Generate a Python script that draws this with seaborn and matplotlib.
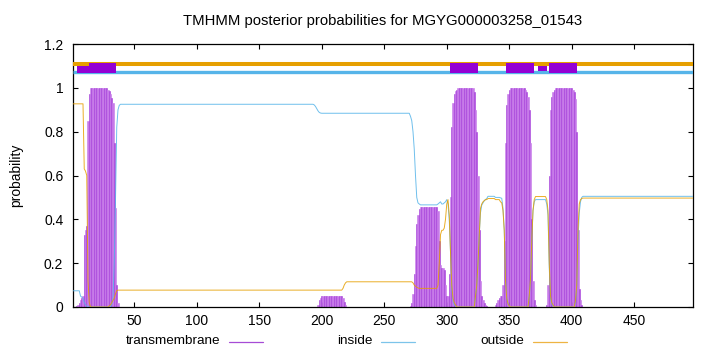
import matplotlib
matplotlib.use("Agg")
import matplotlib.pyplot as plt
import seaborn as sns
from matplotlib.lines import Line2D

# ---------------- data ----------------
title = "TMHMM posterior probabilities for MGYG000003258_01543"
seq_len = 497
residues = list(range(1, seq_len + 1))

transmembrane = (
    [0.0] * 3
    + [0.005, 0.01, 0.02, 0.03, 0.04, 0.05]
    + [0.33, 0.35, 0.37, 0.85, 0.97]
    + [1.0] * 14
    + [0.99, 0.985, 0.97, 0.955, 0.93, 0.75, 0.45, 0.1, 0.02]
    + [0.0] * 159
    + [0.01, 0.03, 0.04]
    + [0.048] * 17
    + [0.04, 0.025, 0.01]
    + [0.0] * 51
    + [0.005, 0.02, 0.06, 0.15, 0.28, 0.38, 0.42, 0.445, 0.455]
    + [0.458] * 13
    + [0.44, 0.3, 0.19, 0.18, 0.18, 0.17, 0.1, 0.05, 0.05, 0.15, 0.5, 0.82, 0.93, 0.97, 0.985, 0.99]
    + [1.0] * 13
    + [0.98, 0.9, 0.8, 0.6, 0.35, 0.12, 0.05, 0.03, 0.02, 0.01, 0.005]
    + [0.0] * 6
    + [0.01, 0.02, 0.03, 0.04, 0.05, 0.05, 0.1, 0.3, 0.75, 0.92, 0.97, 0.99]
    + [1.0] * 12
    + [0.99, 0.98, 0.96, 0.9, 0.75, 0.4, 0.12, 0.03, 0.01]
    + [0.0] * 8
    + [0.01, 0.1, 0.6, 0.9, 0.96, 0.98, 0.99]
    + [1.0] * 14
    + [0.99, 0.98, 0.95, 0.8, 0.35, 0.08, 0.03, 0.01]
    + [0.0] * 89
)

inside = (
    [0.074] * 6
    + [0.05, 0.045, 0.04, 0.02, 0.01, 0.005]
    + [0.0] * 19
    + [0.01, 0.04, 0.2, 0.49, 0.82, 0.9, 0.92]
    + [0.925] * 155
    + [0.922, 0.915, 0.905, 0.895, 0.888, 0.885]
    + [0.884] * 71
    + [0.87, 0.85, 0.8, 0.72, 0.6, 0.5, 0.475, 0.47]
    + [0.466] * 14
    + [0.47, 0.475, 0.48, 0.47, 0.47, 0.475, 0.48, 0.49, 0.47, 0.4, 0.25, 0.08, 0.03, 0.01, 0.005]
    + [0.0] * 15
    + [0.05, 0.1, 0.2, 0.33, 0.43, 0.465, 0.475, 0.485, 0.49, 0.495]
    + [0.505] * 6
    + [0.5] * 4
    + [0.498, 0.496, 0.45, 0.35, 0.13, 0.04, 0.015, 0.005]
    + [0.0] * 15
    + [0.05, 0.12, 0.3, 0.44, 0.48]
    + [0.49] * 9
    + [0.47, 0.42, 0.18, 0.04, 0.015, 0.005]
    + [0.0] * 17
    + [0.02, 0.1, 0.3, 0.43, 0.48, 0.5]
    + [0.505] * 89
)

outside = (
    [0.927] * 9
    + [0.63, 0.62, 0.6, 0.12, 0.02]
    + [0.0] * 15
    + [0.005, 0.01, 0.02, 0.03, 0.04, 0.06, 0.075]
    + [0.077] * 180
    + [0.085, 0.1, 0.11]
    + [0.115] * 53
    + [0.11, 0.1, 0.095, 0.09, 0.087]
    + [0.085] * 15
    + [0.1, 0.2, 0.33, 0.35, 0.35, 0.36, 0.4, 0.47, 0.49, 0.42, 0.25, 0.1, 0.04, 0.02, 0.01]
    + [0.0] * 15
    + [0.05, 0.1, 0.2, 0.32, 0.45, 0.47, 0.48, 0.485, 0.49, 0.49]
    + [0.495] * 6
    + [0.49] * 4
    + [0.48, 0.475, 0.44, 0.35, 0.12, 0.04, 0.015, 0.005]
    + [0.0] * 15
    + [0.05, 0.13, 0.3, 0.44, 0.49]
    + [0.504] * 9
    + [0.49, 0.44, 0.2, 0.05, 0.02, 0.01]
    + [0.0] * 17
    + [0.03, 0.1, 0.35, 0.47, 0.49, 0.495]
    + [0.497] * 89
)

tm_regions = [(14.0, 35.4), (302.8, 325.2), (347.0, 369.4), (382.0, 404.4)]
minor_regions = [(4.4, 14.0), (373.2, 380.4)]

x_ticks = [50, 100, 150, 200, 250, 300, 350, 400, 450]
y_ticks = [0, 0.2, 0.4, 0.6, 0.8, 1.0, 1.2]
y_tick_labels = ["0", "0.2", "0.4", "0.6", "0.8", "1", "1.2"]
legend_labels = ["transmembrane", "inside", "outside"]

assert len(transmembrane) == seq_len and len(inside) == seq_len and len(outside) == seq_len

# ---------------- style ----------------
sns.set_theme(style="white")
plt.rcParams["font.family"] = ["Liberation Sans", "DejaVu Sans"]
plt.rcParams["axes.linewidth"] = 0.9

C_TM_BOX = "#9400d3"
C_TM_DARK = "#a742db"
C_TM_LIGHT = "#c77ae9"
C_IN = "#56b4e9"
C_OUT = "#e69f00"

fig = plt.figure(figsize=(7.2, 3.52), dpi=100)
ax = fig.add_axes([73 / 720, 45 / 352, 620 / 720, 263 / 352])

# impulses for transmembrane probability
bar_colors = [C_TM_DARK if r % 2 == 0 else C_TM_LIGHT for r in residues]
ax.bar(residues, transmembrane, width=1.0, color=bar_colors, edgecolor=bar_colors,
       linewidth=0.4, zorder=2)

# inside / outside curves
sns.lineplot(x=residues, y=inside, ax=ax, color=C_IN, linewidth=0.7, alpha=0.85, legend=False, zorder=3)
sns.lineplot(x=residues, y=outside, ax=ax, color=C_OUT, linewidth=0.7, alpha=0.85, legend=False, zorder=3)

# topology summary at top
ax.plot([1, seq_len], [1.1096, 1.1096], color=C_OUT, lw=2.9, solid_capstyle="butt", zorder=4)
ax.plot([1, seq_len], [1.0717, 1.0717], color=C_IN, lw=2.4, solid_capstyle="butt", zorder=4)
for a, b in tm_regions:
    ax.bar((a + b) / 2, 0.0457, width=b - a, bottom=1.0671, color=C_TM_BOX, linewidth=0, zorder=5)
minor_bottoms = [1.0671, 1.0776]
for (a, b), bot in zip(minor_regions, minor_bottoms):
    ax.bar((a + b) / 2, 1.1005 - bot, width=b - a, bottom=bot, color=C_TM_BOX, linewidth=0, zorder=5)

ax.set_xlim(1, seq_len)
ax.set_ylim(0, 1.2)
ax.set_xticks(x_ticks)
ax.set_xticklabels([str(t) for t in x_ticks])
ax.set_yticks(y_ticks)
ax.set_yticklabels(y_tick_labels)
ax.tick_params(axis="both", which="both", direction="in", length=3.5, width=0.8,
               colors="black", labelsize=10, top=True, right=True,
               bottom=True, left=True, labelcolor="black")
ax.tick_params(axis="x", pad=5)
ax.tick_params(axis="y", pad=7)
for s in ax.spines.values():
    s.set_color("black")
    s.set_visible(True)
ax.set_xlabel("")
ax.set_ylabel("probability", fontsize=10, color="black")
ax.yaxis.set_label_coords(-0.08, 0.5)

fig.text(383 / 720, 1 - 21 / 352, title, ha="center", va="center", fontsize=10.7, color="black")

# legend below, gnuplot style (text right-aligned, sample line after)
leg_colors = ["#a64bd6", "#7cc4ea", "#eeb443"]
ly = 1 - 341.5 / 352
for k, (lab, col) in enumerate(zip(legend_labels, leg_colors)):
    fig.text((220 + 152 * k) / 720, ly, lab, ha="right", va="center", fontsize=9.7, color="black")
    fig.add_artist(Line2D([(229 + 152 * k) / 720, (263 + 152 * k) / 720], [ly, ly],
                          transform=fig.transFigure, color=col, lw=0.9))

fig.savefig("out.png", dpi=100)
